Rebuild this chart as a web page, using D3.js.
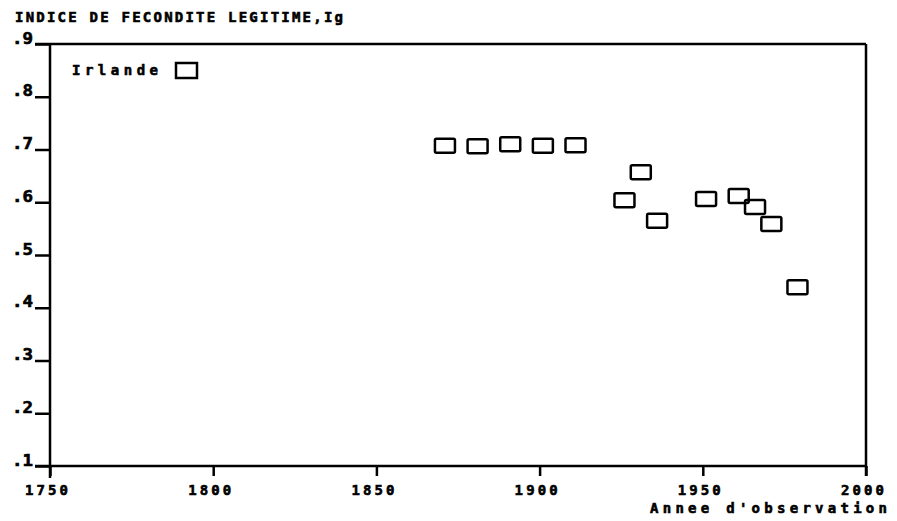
<!DOCTYPE html>
<html>
<head>
<meta charset="utf-8">
<script src="https://cdn.jsdelivr.net/npm/d3@7"></script>
<style>
  body { margin: 0; background: #fff; }
  text { font-family: "DejaVu Sans Mono", monospace; font-weight: bold; fill: #000; stroke: #000; stroke-width: 0.6px; }
</style>
</head>
<body>
<div id="chart"></div>
<script>
const years = [1871, 1881, 1891, 1901, 1911, 1926, 1931, 1936, 1951, 1961, 1966, 1971, 1979];
const ig    = [0.707, 0.706, 0.710, 0.707, 0.708, 0.604, 0.657, 0.565, 0.606, 0.612, 0.591, 0.559, 0.439];
const yTicks = [0.1, 0.2, 0.3, 0.4, 0.5, 0.6, 0.7, 0.8, 0.9];
const xTicks = [1750, 1800, 1850, 1900, 1950, 2000];

const width = 897;
const height = 521;
const margin = { top: 44, right: 31, bottom: 55, left: 50 };

const svg = d3.select("#chart").append("svg")
    .attr("width", width)
    .attr("height", height);

const x = d3.scaleLinear().domain([1750, 2000]).range([margin.left, width - margin.right]);
const y = d3.scaleLinear().domain([0.1, 0.9]).range([height - margin.bottom, margin.top]);

const ink = "#000";

// frame: top and right
svg.append("line")
    .attr("x1", x(1750) - 15).attr("x2", x(2000))
    .attr("y1", y(0.9)).attr("y2", y(0.9))
    .attr("stroke", ink).attr("stroke-width", 2.5);
svg.append("line")
    .attr("x1", x(2000)).attr("x2", x(2000))
    .attr("y1", y(0.9)).attr("y2", y(0.1) + 10)
    .attr("stroke", ink).attr("stroke-width", 2.5);

// y axis
const yAxis = svg.append("g")
    .attr("transform", "translate(" + x(1750) + ",0)")
    .call(d3.axisLeft(y).tickValues(yTicks).tickSize(15).tickSizeOuter(0).tickFormat(""));
yAxis.select(".domain").attr("d", "M0," + y(0.9) + "V" + (y(0.1) + 12));
yAxis.selectAll("path, line").attr("stroke", ink).attr("stroke-width", 2.5);

yAxis.selectAll(".tick").append("text")
    .attr("x", -17)
    .attr("y", -1)
    .attr("text-anchor", "end")
    .attr("font-size", 15)
    .attr("textLength", 21)
    .attr("lengthAdjust", "spacingAndGlyphs")
    .text(d => d3.format(".1f")(d).replace("0.", "."));

// x axis
const xAxis = svg.append("g")
    .attr("transform", "translate(0," + y(0.1) + ")")
    .call(d3.axisBottom(x).tickValues(xTicks).tickSize(10).tickSizeOuter(0).tickFormat(""));
xAxis.select(".domain").attr("d", "M" + (x(1750) - 15) + ",0H" + x(2000));
xAxis.selectAll("path, line").attr("stroke", ink).attr("stroke-width", 2.5);

xAxis.selectAll(".tick").append("text")
    .attr("x", -4)
    .attr("y", 29)
    .attr("text-anchor", "middle")
    .attr("font-size", 14)
    .attr("textLength", 43)
    .attr("lengthAdjust", "spacing")
    .text(d => d);

// title and axis label
svg.append("text")
    .attr("x", 15).attr("y", 22)
    .attr("font-size", 14)
    .attr("textLength", 328)
    .attr("lengthAdjust", "spacing")
    .text("INDICE DE FECONDITE LEGITIME,Ig");

svg.append("text")
    .attr("x", 650).attr("y", 513)
    .attr("font-size", 14)
    .attr("textLength", 237)
    .attr("lengthAdjust", "spacing")
    .text("Annee d'observation");

// points
const boxW = 20, boxH = 14;
svg.append("g").selectAll("rect")
    .data(years.map((yr, i) => [yr, ig[i]]))
    .join("rect")
    .attr("x", d => x(d[0]) - boxW / 2)
    .attr("y", d => y(d[1]) - boxH / 2)
    .attr("width", boxW)
    .attr("height", boxH)
    .attr("rx", 1.5)
    .attr("fill", "none")
    .attr("stroke", ink)
    .attr("stroke-width", 2.5);

// legend
const legend = svg.append("g").attr("transform", "translate(72,70)");
legend.append("text")
    .attr("x", 0).attr("y", 5)
    .attr("font-size", 14)
    .attr("textLength", 86)
    .attr("lengthAdjust", "spacing")
    .text("Irlande");
legend.append("rect")
    .attr("x", 104).attr("y", -7)
    .attr("width", 21).attr("height", 15)
    .attr("fill", "none")
    .attr("stroke", ink)
    .attr("stroke-width", 2.5);
</script>
</body>
</html>
